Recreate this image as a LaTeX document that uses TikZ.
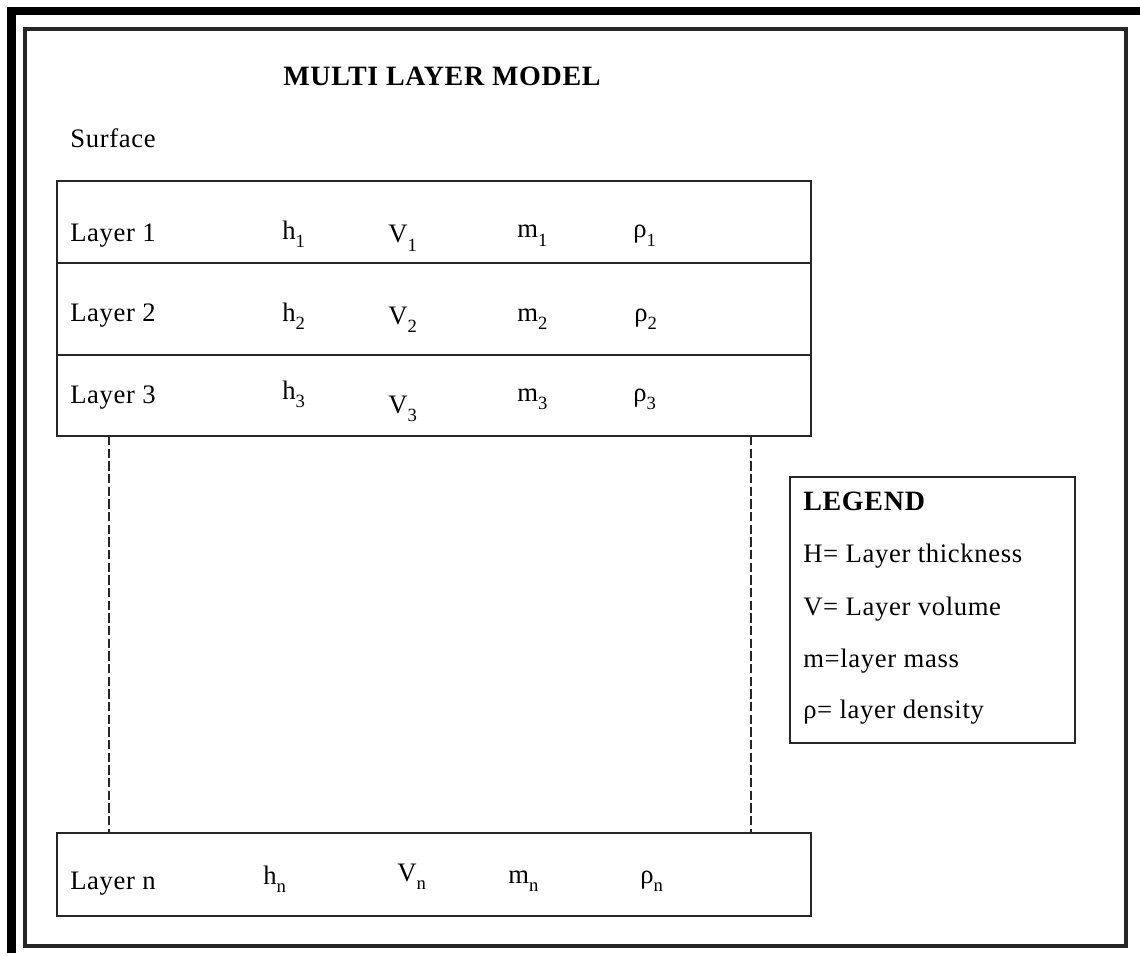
\documentclass[tikz,border=0pt]{standalone}
\usepackage{fontspec}
\setmainfont{Liberation Serif}[LetterSpace=2.5]
\newcommand{\lsub}[1]{\raisebox{-0.3em}{\fontsize{14}{14}\selectfont #1}}
\begin{document}
\begin{tikzpicture}[x=0.75pt,y=-0.75pt,
  txt/.style={anchor=base west,inner sep=0pt,font=\fontsize{20}{24}\selectfont},
  btxt/.style={anchor=base west,inner sep=0pt,font=\fontsize{21}{24}\selectfont\bfseries},
  layerbox/.style={draw=black!85,line width=1.5pt,anchor=north west,inner sep=0pt,outer sep=0pt,minimum width=565.5pt},
  legendbox/.style={draw=black!85,line width=2.2pt,anchor=north west,inner sep=0pt,outer sep=0pt,minimum width=213.75pt,minimum height=199.5pt},
  dashline/.style={draw=black!85,line width=1.2pt,dash pattern=on 7pt off 2.5pt}]
\useasboundingbox (0,0) rectangle (1140,956);
% outer thick band (top and left)
\fill[black] (7,7) rectangle (1140,15.5);
\fill[black] (7,7) rectangle (16,953);
% inner frame
\draw[black!85,line width=2.3pt] (25,29) rectangle (1126,946);
% title and surface
\node[btxt] (title) at (283,86) {MULTI LAYER MODEL};
\node[txt] (surface) at (70,147) {Surface};
% layer boxes
\node[layerbox,minimum height=61.5pt] (L1) at (57,181) {};
\node[layerbox,minimum height=69pt] (L2) at (57,263) {};
\node[layerbox,minimum height=60.75pt] (L3) at (57,355) {};
\node[layerbox,minimum height=62.25pt] (Ln) at (57,833) {};
% row 1
\node[txt] (l1) at (70,241) {Layer 1};
\node[txt] (h1) at (282,239) {h\lsub{1}};
\node[txt] (v1) at (388,243) {V\lsub{1}};
\node[txt] (m1) at (517,238) {m\lsub{1}};
\node[txt] (r1) at (633,238) {ρ\lsub{1}};
% row 2
\node[txt] (l2) at (70,321) {Layer 2};
\node[txt] (h2) at (282,321) {h\lsub{2}};
\node[txt] (v2) at (388,324) {V\lsub{2}};
\node[txt] (m2) at (517,321) {m\lsub{2}};
\node[txt] (r2) at (634,321) {ρ\lsub{2}};
% row 3
\node[txt] (l3) at (70,403) {Layer 3};
\node[txt] (h3) at (282,399) {h\lsub{3}};
\node[txt] (v3) at (388,413) {V\lsub{3}};
\node[txt] (m3) at (517,401) {m\lsub{3}};
\node[txt] (r3) at (633,401) {ρ\lsub{3}};
% row n
\node[txt] (ln) at (70,889) {Layer n};
\node[txt] (hn) at (263,884) {h\lsub{n}};
\node[txt] (vn) at (397,881) {V\lsub{n}};
\node[txt] (mn) at (508,883) {m\lsub{n}};
\node[txt] (rn) at (640,883) {ρ\lsub{n}};
% dashed connectors
\coordinate (dxl) at (109,0);
\coordinate (dxr) at (751,0);
\draw[dashline] (L3.south west -| dxl) -- (Ln.north west -| dxl);
\draw[dashline] (L3.south west -| dxr) -- (Ln.north west -| dxr);
% legend
\node[legendbox] (legend) at (790,477) {};
\node[btxt] (lg0) at (803,510) {LEGEND};
\node[txt] (lg1) at (803,562) {H= Layer thickness};
\node[txt] (lg2) at (803,615) {V= Layer volume};
\node[txt] (lg3) at (803,667) {m=layer mass};
\node[txt] (lg4) at (803,718) {ρ= layer density};
\end{tikzpicture}
\end{document}
